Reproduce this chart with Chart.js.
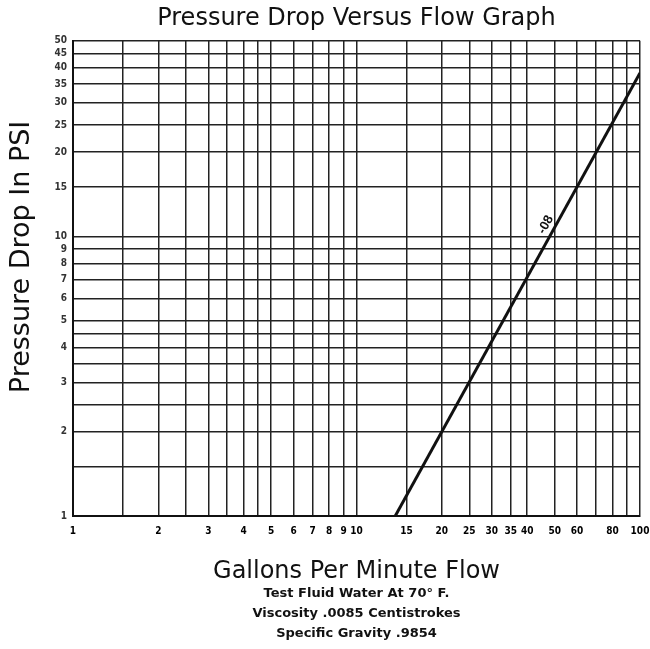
<!DOCTYPE html>
<html>
<head>
<meta charset="utf-8">
<title>Pressure Drop Versus Flow Graph</title>
<script src="https://cdn.jsdelivr.net/npm/chart.js@4"></script>
<style>
  body { margin: 0; background: #fff; }
  canvas { display: block; }
</style>
</head>
<body>
<canvas id="flowChart" width="650" height="649"></canvas>
<script>
// Log paper grid lines and the values that get a printed label
const xGrid = [1, 1.5, 2, 2.5, 3, 3.5, 4, 4.5, 5, 6, 7, 8, 9, 10, 15, 20, 25, 30, 35, 40, 50, 60, 70, 80, 90, 100];
const xLabels = [1, 2, 3, 4, 5, 6, 7, 8, 9, 10, 15, 20, 25, 30, 35, 40, 50, 60, 80, 100];
const yGrid = [1, 1.5, 2, 2.5, 3, 3.5, 4, 4.5, 5, 6, 7, 8, 9, 10, 15, 20, 25, 30, 35, 40, 45, 50];
const yLabels = [1, 2, 3, 4, 5, 6, 7, 8, 9, 10, 15, 20, 25, 30, 35, 40, 45, 50];

// Curve -08: flow (GPM) vs pressure drop (PSI)
const flowGpm = [13.7, 100];
const dropPsi = [1, 38.4];
const curveName = "-08";
const curveLabelAt = [46.5, 11];

const subtitleLines = [
    "Test Fluid Water At 70\u00b0 F.",
    "Viscosity .0085 Centistrokes",
    "Specific Gravity .9854"
];

Chart.defaults.color = "#111";

// writes the curve name along the line
const curveLabel = {
    id: "curveLabel",
    afterDatasetsDraw(chart) {
        const { ctx, scales } = chart;
        const x0 = scales.x.getPixelForValue(flowGpm[0]);
        const y0 = scales.y.getPixelForValue(dropPsi[0]);
        const x1 = scales.x.getPixelForValue(flowGpm[1]);
        const y1 = scales.y.getPixelForValue(dropPsi[1]);
        const angle = Math.atan2(y1 - y0, x1 - x0);
        ctx.save();
        ctx.translate(scales.x.getPixelForValue(curveLabelAt[0]), scales.y.getPixelForValue(curveLabelAt[1]));
        ctx.rotate(angle);
        ctx.font = "bold 13px 'Liberation Sans', Arial, sans-serif";
        ctx.fillStyle = "#111";
        ctx.textAlign = "center";
        ctx.textBaseline = "middle";
        ctx.fillText(curveName, 0, 0);
        ctx.restore();
    }
};

const chart = new Chart(document.getElementById("flowChart"), {
    type: "line",
    data: {
        datasets: [{
            label: curveName,
            data: flowGpm.map((x, i) => ({ x: x, y: dropPsi[i] })),
            borderColor: "#111",
            borderWidth: 3,
            pointRadius: 0,
            tension: 0
        }]
    },
    options: {
        responsive: false,
        animation: false,
        layout: { padding: { left: 0, right: 10, top: 0, bottom: 0 } },
        plugins: {
            legend: { display: false },
            tooltip: { enabled: false },
            title: {
                display: true,
                fullSize: false,
                text: "Pressure Drop Versus Flow Graph",
                color: "#111",
                font: { family: "'DejaVu Sans', sans-serif", size: 24, weight: "normal" },
                padding: { top: 4, bottom: 8 }
            },
            subtitle: {
                display: true,
                fullSize: false,
                position: "bottom",
                text: subtitleLines,
                color: "#111",
                font: { family: "'DejaVu Sans', sans-serif", size: 13, weight: "bold", lineHeight: 1.54 },
                padding: { top: 0, bottom: 5 }
            }
        },
        scales: {
            x: {
                type: "logarithmic",
                min: 1,
                max: 100,
                afterBuildTicks: (s) => { s.ticks = xGrid.map(v => ({ value: v })); },
                afterFit: (s) => { s.height = 68; s.paddingLeft = 0; s.paddingRight = 0; },
                grid: { color: "#222", lineWidth: 1.5, drawTicks: false },
                border: { color: "#111", width: 2 },
                ticks: {
                    autoSkip: false,
                    maxRotation: 0,
                    padding: 9,
                    color: "#000",
                    font: { family: "'DejaVu Sans Condensed', 'Liberation Sans Narrow', 'Liberation Sans', sans-serif", size: 10, weight: "bold" },
                    callback: (v) => xLabels.includes(v) ? String(v) : ""
                },
                title: {
                    display: true,
                    text: "Gallons Per Minute Flow",
                    color: "#111",
                    font: { family: "'DejaVu Sans', sans-serif", size: 24, weight: "normal", lineHeight: 1 },
                    padding: { top: 4, bottom: 0 }
                }
            },
            y: {
                type: "logarithmic",
                min: 1,
                max: 50,
                afterBuildTicks: (s) => { s.ticks = yGrid.map(v => ({ value: v })); },
                afterFit: (s) => { s.width = 73; s.paddingTop = 0; s.paddingBottom = 0; },
                grid: { color: "#222", lineWidth: 1.5, drawTicks: false },
                border: { color: "#111", width: 2 },
                ticks: {
                    autoSkip: false,
                    padding: 6,
                    color: "#333",
                    font: { family: "'Liberation Sans Narrow', 'DejaVu Sans Condensed', sans-serif", size: 10, weight: "bold" },
                    callback: (v) => yLabels.includes(v) ? String(v) : ""
                },
                title: {
                    display: true,
                    text: "\u00a0\u00a0\u00a0\u00a0\u00a0Pressure Drop In PSI",
                    color: "#111",
                    font: { family: "'DejaVu Sans', sans-serif", size: 27, weight: "normal" },
                    padding: { top: 6, bottom: 0 }
                }
            }
        }
    },
    plugins: [curveLabel]
});
</script>
</body>
</html>
